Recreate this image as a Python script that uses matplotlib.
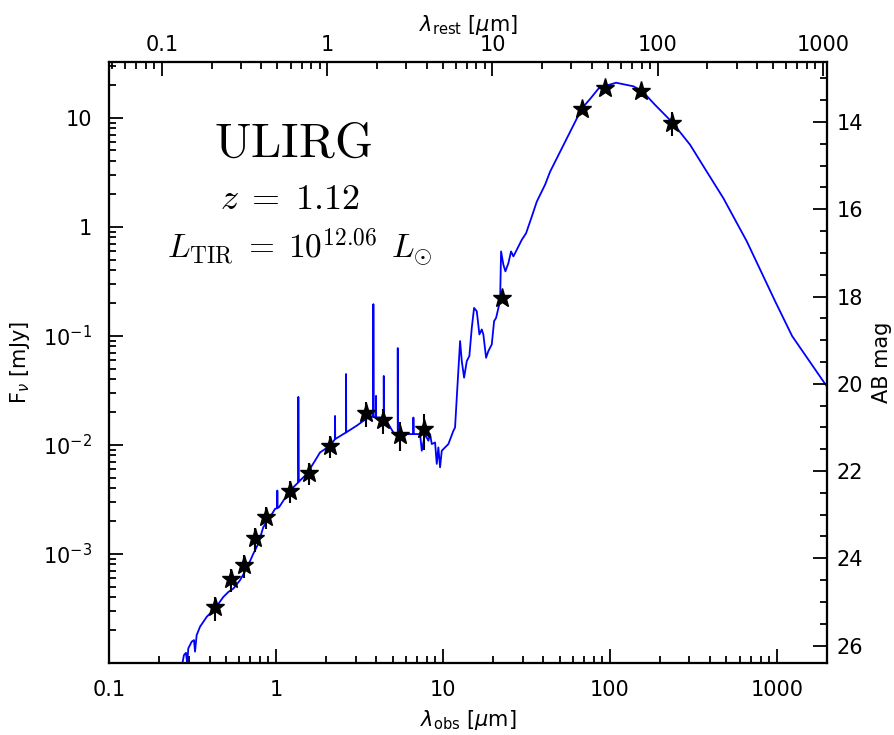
import numpy as np
import matplotlib
matplotlib.use('Agg')
import matplotlib.pyplot as plt
from matplotlib.ticker import LogLocator, FixedLocator, MultipleLocator, FuncFormatter, NullFormatter

# photometry (lambda_obs in um, flux in mJy, 1-sigma error in mJy)
phot_wave = [0.4315, 0.538, 0.644, 0.750, 0.872, 1.215, 1.579, 2.109, 3.466, 4.382,
             5.541, 7.717, 22.6, 68.2, 93.7, 154.0, 236.3]
phot_flux = [3.25e-4, 5.85e-4, 7.86e-4, 1.39e-3, 2.20e-3, 3.81e-3, 5.56e-3, 9.81e-3,
             0.0197, 0.0170, 0.0124, 0.0140, 0.222, 12.1, 18.7, 17.6, 8.96]
phot_err = [0.8e-4, 1.4e-4, 1.9e-4, 0.35e-3, 0.5e-3, 0.9e-3, 1.3e-3, 2.3e-3,
            0.005, 0.0045, 0.0037, 0.005, 0.02, 1.0, 1.5, 2.0, 2.2]

# best fit SED model (lambda_obs um, flux mJy)
model_points = [
    (0.272, 9.0e-5), (0.281, 1.18e-4), (0.289, 1.24e-4), (0.294, 9.9e-5), (0.2985, 1.36e-4),
    (0.313, 1.57e-4), (0.323, 1.62e-4), (0.3275, 1.27e-4), (0.335, 1.80e-4), (0.351, 2.15e-4),
    (0.385, 2.65e-4), (0.4315, 3.16e-4), (0.484, 4.03e-4), (0.519, 4.48e-4), (0.556, 4.81e-4),
    (0.609, 5.73e-4), (0.668, 7.33e-4), (0.732, 1.005e-3), (0.784, 1.24e-3), (0.840, 1.76e-3),
    (0.922, 2.17e-3), (0.988, 2.59e-3), (1.018, 2.62e-3), (1.0195, 3.81e-3), (1.021, 2.64e-3),
    (1.044, 2.68e-3), (1.16, 3.43e-3), (1.27, 4.08e-3), (1.362, 4.53e-3), (1.362, 2.75e-2),
    (1.366, 4.56e-3), (1.529, 5.41e-3), (1.715, 7.16e-3), (1.837, 8.52e-3), (2.109, 9.81e-3),
    (2.260, 1.13e-2), (2.260, 1.84e-2), (2.265, 1.13e-2), (2.630, 1.30e-2), (2.630, 4.46e-2),
    (2.636, 1.30e-2), (3.049, 1.50e-2), (3.340, 1.66e-2), (3.663, 1.81e-2), (3.834, 1.81e-2),
    (3.834, 0.195), (3.840, 1.81e-2), (3.979, 1.78e-2), (3.979, 2.81e-2), (3.985, 1.78e-2),
    (4.304, 1.78e-2), (4.425, 1.78e-2), (4.425, 4.28e-2), (4.432, 1.78e-2), (4.715, 1.55e-2),
    (5.051, 1.30e-2), (5.368, 1.255e-2), (5.368, 7.71e-2), (5.376, 1.255e-2), (6.077, 1.255e-2),
    (6.660, 1.255e-2), (6.660, 1.78e-2), (6.670, 1.255e-2), (7.303, 1.255e-2), (7.476, 8.83e-3),
    (7.823, 1.255e-2), (8.187, 1.09e-2), (8.382, 1.255e-2), (8.581, 1.017e-2), (8.981, 1.051e-2),
    (9.192, 6.68e-3), (9.397, 9.47e-3), (9.621, 6.22e-3), (9.849, 8.83e-3), (10.79, 1.017e-2),
    (11.56, 1.345e-2), (11.83, 1.442e-2), (12.21, 3.345e-2), (12.68, 8.94e-2), (12.98, 5.87e-2),
    (13.40, 4.13e-2), (13.91, 5.87e-2), (14.41, 6.52e-2), (14.90, 0.1182), (15.38, 0.1800),
    (15.96, 0.1680), (16.55, 0.1029), (17.10, 0.1143), (17.48, 0.1029), (18.15, 6.29e-2),
    (18.73, 7.24e-2), (19.63, 8.33e-2), (20.27, 0.1361), (20.84, 0.1459), (21.51, 0.1800),
    (22.02, 0.2073), (22.32, 0.5935), (23.04, 0.4485), (23.69, 0.3897), (24.69, 0.4639),
    (25.62, 0.5935), (26.45, 0.5341), (27.72, 0.6150), (29.71, 0.7591), (31.52, 0.8722),
    (34.10, 1.240), (36.53, 1.699), (40.96, 2.430), (43.88, 3.193), (50.38, 4.865),
    (57.84, 7.410), (67.95, 12.10), (76.21, 14.84), (85.44, 18.42), (93.72, 19.50),
    (109.1, 20.90), (138.5, 19.38), (156.2, 17.55), (186.8, 13.08), (235.3, 9.146),
    (302.8, 5.636), (381.3, 3.193), (479.5, 1.821), (662.2, 0.7326), (978.0, 0.2073),
    (1237.0, 0.0993), (2005.0, 0.0340),
]
model_wave = [p[0] for p in model_points]
model_flux = [p[1] for p in model_points]

xlim = (0.1, 2000.)
rest_xlim = (0.0478, 1057.)   # top axis range as drawn
ylim = (1.0e-4, 32.4)
ab_zero = 16.4   # AB = 16.4 - 2.5 log10(F/mJy)

plt.rcParams['font.family'] = 'DejaVu Sans'
plt.rcParams['axes.linewidth'] = 1.5

fig = plt.figure(figsize=(8.95, 7.35), dpi=100)
ax = fig.add_axes([0.1218, 0.098, 0.8022, 0.8177])

ax.plot(model_wave, model_flux, color='#0000ff', lw=1.3)
ax.errorbar(phot_wave, phot_flux, yerr=phot_err, fmt='none', ecolor='black', elinewidth=1.5)
ax.plot(phot_wave, phot_flux, ls='none', marker='*', ms=14, mfc='black', mec='black')

ax.set_xscale('log')
ax.set_yscale('log')
ax.set_xlim(xlim)
ax.set_ylim(ylim)

def xfmt(v, pos):
    return '%g' % v

def yfmt(v, pos):
    e = int(round(np.log10(v)))
    if e >= 0:
        return '%d' % round(v)
    return r'$10^{%d}$' % e

decades = [0.1, 1, 10, 100, 1000]
ax.xaxis.set_major_locator(FixedLocator(decades))
ax.xaxis.set_major_formatter(FuncFormatter(xfmt))
ax.xaxis.set_minor_locator(LogLocator(subs=np.arange(2, 10), numticks=20))
ax.xaxis.set_minor_formatter(NullFormatter())
ax.yaxis.set_major_locator(FixedLocator([1e-3, 1e-2, 1e-1, 1, 10]))
ax.yaxis.set_major_formatter(FuncFormatter(yfmt))
ax.yaxis.set_minor_locator(LogLocator(subs=np.arange(2, 10), numticks=20))
ax.yaxis.set_minor_formatter(NullFormatter())
ax.tick_params(which='major', direction='in', length=10, width=1.3, labelsize=15, pad=12)
ax.tick_params(which='minor', direction='in', length=5, width=1.3)
ax.tick_params(axis='y', which='both', right=False)
ax.tick_params(axis='x', which='both', top=False)

ax.set_xlabel(r'$\lambda_{\rm obs}$ [$\mu$m]', fontsize=15, labelpad=6,
              math_fontfamily='dejavusans')
ax.set_ylabel(r'F$_\nu$ [mJy]', fontsize=15, labelpad=8, math_fontfamily='dejavusans')

# top axis: rest-frame wavelength
top = ax.twiny()
top.set_xscale('log')
top.set_xlim(rest_xlim)
top.xaxis.set_major_locator(FixedLocator(decades))
top.xaxis.set_major_formatter(FuncFormatter(xfmt))
top.xaxis.set_minor_locator(LogLocator(subs=np.arange(2, 10), numticks=20))
top.xaxis.set_minor_formatter(NullFormatter())
top.tick_params(which='major', direction='in', length=10, width=1.3, labelsize=15, pad=5)
top.tick_params(which='minor', direction='in', length=5, width=1.3)
top.set_xlabel(r'$\lambda_{\rm rest}$ [$\mu$m]', fontsize=15, labelpad=3,
               math_fontfamily='dejavusans')

# right axis: AB magnitude
ax2 = ax.twinx()
ax2.set_ylim(ab_zero - 2.5 * np.log10(ylim[0]), ab_zero - 2.5 * np.log10(ylim[1]))
ax2.yaxis.set_major_locator(MultipleLocator(2))
ax2.yaxis.set_minor_locator(MultipleLocator(0.5))
ax2.tick_params(which='major', direction='in', length=10, width=1.3, labelsize=15, pad=7)
ax2.tick_params(which='minor', direction='in', length=5, width=1.3)
ax2.set_ylabel('AB mag', fontsize=15, labelpad=6)

ax.text(0.256, 0.865, r'$\mathrm{ULIRG}$', transform=ax.transAxes, ha='center', va='center',
        fontsize=35, math_fontfamily='cm')
ax.text(0.252, 0.772, r'$z\;=\;1.12$', transform=ax.transAxes, ha='center', va='center',
        fontsize=26, math_fontfamily='cm')
ax.text(0.266, 0.692, r'$L_{\rm TIR}\;=\;10^{12.06}\;\,L_{\odot}$', transform=ax.transAxes,
        ha='center', va='center', fontsize=24, math_fontfamily='cm')

fig.savefig('out.png', dpi=100, facecolor='white')
